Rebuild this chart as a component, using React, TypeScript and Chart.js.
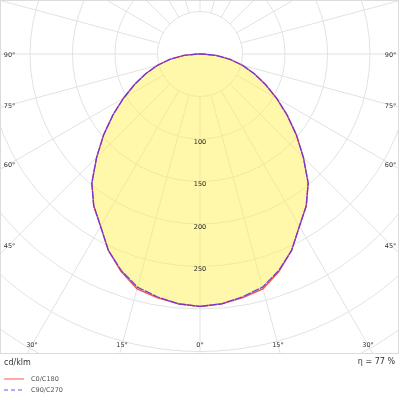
import React, { useEffect, useRef } from "react";
import { Chart, registerables } from "chart.js";

Chart.register(...registerables);

// Gamma angles (degrees from nadir) for every half-plane
const ANGLES = [0, 5, 10, 15, 20, 25, 30, 35, 40, 45, 50, 55, 60, 65, 70, 75, 80, 85, 90,
  95, 100, 105, 110, 115, 120, 125, 130, 135, 140, 145, 150, 155, 160, 165, 170, 175, 180];

// Intensities in cd/klm
const C0 = [297, 295, 291, 286, 272, 255, 234, 218, 198, 172, 148, 125, 104, 85, 68, 52, 36, 19, 3,
  0, 0, 0, 0, 0, 0, 0, 0, 0, 0, 0, 0, 0, 0, 0, 0, 0, 0, 0];
const C180 = [297, 295, 291, 286, 272, 255, 234, 218, 198, 172, 148, 125, 104, 85, 68, 52, 36, 19, 3,
  0, 0, 0, 0, 0, 0, 0, 0, 0, 0, 0, 0, 0, 0, 0, 0, 0, 0, 0];
const C90 = [297, 295, 290, 284, 271, 255, 234, 218, 198, 172, 148, 125, 104, 85, 68, 52, 36, 19, 3,
  0, 0, 0, 0, 0, 0, 0, 0, 0, 0, 0, 0, 0, 0, 0, 0, 0, 0, 0];
const C270 = [297, 295, 290, 284, 271, 255, 234, 218, 198, 172, 148, 125, 104, 85, 68, 52, 36, 19, 3,
  0, 0, 0, 0, 0, 0, 0, 0, 0, 0, 0, 0, 0, 0, 0, 0, 0, 0, 0];

const SERIES_LABELS = ["C0/C180", "C90/C270"];
const RING_VALUES = [50, 100, 150, 200, 250, 300, 350, 400, 450, 500];
const RING_LABELS = [100, 150, 200, 250];
const SPOKE_ANGLES = [0, 15, 30, 45, 60, 75, 90, 105, 120, 135, 150, 165, 180, 195, 210, 225, 240, 255, 270, 285, 300, 315, 330, 345];
const ANGLE_LABELS = [0, 15, 30, 45, 60, 75, 90];
const UNIT_LABEL = "cd/klm";
const EFFICIENCY_LABEL = "η = 77 %";

// Layout (pixels)
const W = 400;
const H = 400;
const PX_PER_UNIT = 0.85;
const CX = 200;
const CY = 54;
const FRAME_W = 399;
const FRAME_H = 354;

const rad = (d: number) => (d * Math.PI) / 180;

function curve(right: number[], left: number[]) {
  const pts: { x: number; y: number }[] = [];
  for (let i = 0; i < ANGLES.length; i++) {
    const a = rad(ANGLES[i]);
    pts.push({ x: right[i] * Math.sin(a), y: -right[i] * Math.cos(a) });
  }
  for (let i = ANGLES.length - 1; i >= 0; i--) {
    const a = rad(ANGLES[i]);
    pts.push({ x: -left[i] * Math.sin(a), y: -left[i] * Math.cos(a) });
  }
  return pts;
}

const FONT = '"DejaVu Sans", Verdana, sans-serif';

const photometricPlugin = {
  id: "photometric",
  beforeDatasetsDraw(chart: any) {
    const { ctx, scales } = chart;
    const xs = scales.x;
    const ys = scales.y;
    const cx = xs.getPixelForValue(0);
    const cy = ys.getPixelForValue(0);
    const toPx = (r: number, deg: number) => ({
      x: xs.getPixelForValue(r * Math.sin(rad(deg))),
      y: ys.getPixelForValue(-r * Math.cos(rad(deg))),
    });
    ctx.save();
    ctx.beginPath();
    ctx.rect(0, 0, FRAME_W, FRAME_H);
    ctx.clip();
    ctx.strokeStyle = "#e2e2e2";
    ctx.lineWidth = 1;
    for (const r of RING_VALUES) {
      const pr = Math.abs(xs.getPixelForValue(r) - cx);
      ctx.beginPath();
      ctx.arc(cx, cy, pr, 0, Math.PI * 2);
      ctx.stroke();
    }
    for (const a of SPOKE_ANGLES) {
      const p0 = toPx(RING_VALUES[0], a);
      const p1 = toPx(800, a);
      ctx.beginPath();
      ctx.moveTo(p0.x, p0.y);
      ctx.lineTo(p1.x, p1.y);
      ctx.stroke();
    }
    // fill under the light distribution curve
    const meta = chart.getDatasetMeta(0);
    ctx.beginPath();
    meta.data.forEach((el: any, i: number) => {
      if (i === 0) ctx.moveTo(el.x, el.y);
      else ctx.lineTo(el.x, el.y);
    });
    ctx.closePath();
    ctx.fillStyle = "rgba(255, 242, 85, 0.5)";
    ctx.fill();
    // ring labels
    ctx.fillStyle = "#222";
    ctx.font = `6.5px ${FONT}`;
    ctx.textAlign = "center";
    ctx.textBaseline = "middle";
    for (const v of RING_LABELS) {
      const p = toPx(v, 0);
      ctx.fillText(String(v), p.x, p.y + 3);
    }
    ctx.restore();
  },
  afterDraw(chart: any) {
    const { ctx, scales } = chart;
    const xs = scales.x;
    const ys = scales.y;
    const cx = xs.getPixelForValue(0);
    const cy = ys.getPixelForValue(0);
    ctx.save();
    // frame
    ctx.strokeStyle = "#dcdcdc";
    ctx.lineWidth = 1;
    ctx.strokeRect(0.5, 0.5, FRAME_W - 1, FRAME_H - 1);
    // angle labels
    ctx.fillStyle = "#333";
    ctx.font = `6.5px ${FONT}`;
    ctx.textAlign = "center";
    ctx.textBaseline = "middle";
    const halfX = 190.5;
    const bottomY = 345;
    for (const a of ANGLE_LABELS) {
      for (const s of a === 0 ? [1] : [-1, 1]) {
        const dx = Math.sin(rad(a)) * s;
        const dy = Math.cos(rad(a));
        const t1 = Math.abs(dx) > 1e-6 ? halfX / Math.abs(dx) : Infinity;
        const t2 = dy > 1e-6 ? (bottomY - cy) / dy : Infinity;
        const t = Math.min(t1, t2);
        const x = cx + dx * t;
        let y = cy + dy * t;
        if (t1 < t2) y += 1.5;
        ctx.fillText(`${a}°`, x, y);
      }
    }
    // texts & legend
    ctx.textAlign = "left";
    ctx.font = `8px ${FONT}`;
    ctx.fillStyle = "#333";
    ctx.fillText(UNIT_LABEL, 4, 363);
    ctx.textAlign = "right";
    ctx.fillText(EFFICIENCY_LABEL, 395, 362);
    ctx.textAlign = "left";
    ctx.font = `6.5px ${FONT}`;
    const ds = chart.data.datasets;
    const rows = [379, 390];
    ds.forEach((d: any, i: number) => {
      ctx.strokeStyle = i === 0 ? "rgba(255, 110, 110, 0.8)" : "rgba(120, 120, 255, 0.8)";
      ctx.lineWidth = 1.5;
      ctx.setLineDash(i === 0 ? [] : [4, 3]);
      ctx.beginPath();
      ctx.moveTo(4, rows[i]);
      ctx.lineTo(24, rows[i]);
      ctx.stroke();
      ctx.setLineDash([]);
      ctx.fillStyle = "#555";
      ctx.fillText(d.label, 31, rows[i]);
    });
    ctx.restore();
  },
};

export default function App() {
  const ref = useRef<HTMLCanvasElement>(null);
  useEffect(() => {
    document.body.style.margin = "0";
    const xMax = (W - CX) / PX_PER_UNIT;
    const xMin = -CX / PX_PER_UNIT;
    const yMax = CY / PX_PER_UNIT;
    const yMin = -(H - CY) / PX_PER_UNIT;
    const chart = new Chart(ref.current as HTMLCanvasElement, {
      type: "scatter",
      data: {
        datasets: [
          {
            label: SERIES_LABELS[0],
            data: curve(C0, C180),
            showLine: true,
            borderColor: "rgba(255, 50, 50, 0.85)",
            borderWidth: 1.4,
            pointRadius: 0,
            fill: false,
            tension: 0,
            order: 1,
          },
          {
            label: SERIES_LABELS[1],
            data: curve(C90, C270),
            showLine: true,
            borderColor: "rgba(85, 55, 235, 0.9)",
            borderWidth: 1.3,
            borderDash: [8, 1],
            pointRadius: 0,
            fill: false,
            tension: 0,
            order: 0,
          },
        ],
      },
      options: {
        animation: false,
        responsive: false,
        maintainAspectRatio: false,
        layout: { padding: 0 },
        plugins: { legend: { display: false }, tooltip: { enabled: false } },
        events: [],
        scales: {
          x: { type: "linear", display: false, min: xMin, max: xMax },
          y: { type: "linear", display: false, min: yMin, max: yMax },
        },
      },
      plugins: [photometricPlugin],
    } as any);
    return () => chart.destroy();
  }, []);
  return (
    <div style={{ position: "absolute", left: 0, top: 0, width: W, height: H, background: "#fff" }}>
      <canvas ref={ref} width={W} height={H} style={{ width: W, height: H, display: "block" }} />
    </div>
  );
}
